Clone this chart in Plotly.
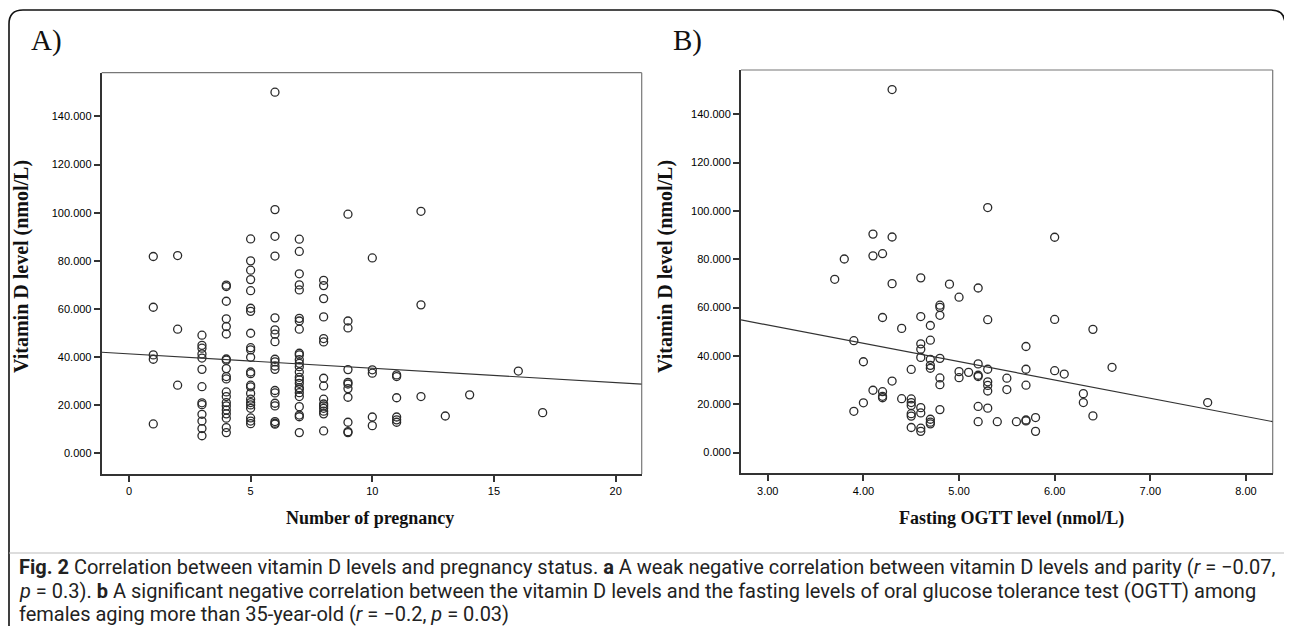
import plotly.graph_objects as go

# the page has an 8px body margin, so the figure is drawn 8px in from the corner
OFF = 8
W, H = 1292 - OFF, 626 - OFF

# ---------------- data ----------------
# Panel A: number of pregnancies -> vitamin D (nmol/L)
parity_groups = {
    1: [81.8, 60.7, 40.9, 39.1, 12.2],
    2: [82.2, 51.6, 28.3],
    3: [49.1, 44.9, 43.7, 41.3, 39.6, 34.9, 27.7, 21.0, 20.2, 16.2, 13.4, 10.3, 7.3],
    4: [69.9, 69.3, 63.2, 55.9, 52.7, 49.6, 39.2, 38.7, 35.2, 31.9, 30.9, 25.5, 23.6,
        21.1, 19.7, 18.0, 16.4, 14.6, 10.7, 8.6],
    5: [89.1, 80.0, 76.1, 72.2, 67.6, 60.3, 59.0, 49.9, 43.9, 43.0, 39.9, 33.8, 33.1,
        28.3, 27.6, 24.9, 22.5, 21.1, 20.1, 18.7, 14.7, 13.4, 12.3],
    6: [150.1, 101.3, 90.2, 82.0, 56.3, 51.3, 49.5, 46.4, 39.1, 38.0, 36.3, 34.9, 26.1,
        25.1, 20.8, 19.7, 13.2, 12.5, 12.1],
    7: [89.0, 83.9, 74.6, 70.0, 67.9, 56.1, 55.0, 51.6, 41.6, 40.9, 38.9, 37.4, 36.0,
        33.8, 31.6, 30.5, 29.1, 27.3, 26.6, 25.2, 23.6, 19.4, 15.9, 15.2, 8.6],
    8: [71.9, 69.7, 64.3, 56.7, 47.7, 46.3, 31.2, 28.0, 22.5, 20.5, 19.7, 18.7, 17.5,
        16.4, 9.3],
    9: [99.4, 55.0, 52.1, 34.8, 29.5, 28.8, 26.9, 23.3, 12.9, 9.0, 8.6],
    10: [81.2, 34.7, 33.3, 15.1, 11.5],
    11: [32.6, 31.9, 23.1, 15.1, 13.9, 12.9],
    12: [100.6, 61.7, 23.6],
    13: [15.5],
    14: [24.3],
    16: [34.2],
    17: [16.9],
}
fitA_intercept, fitA_slope = 41.33, -0.597

# Panel B: fasting OGTT -> vitamin D (nmol/L)
ogtt = [4.30, 4.10, 4.30, 6.00, 5.30, 4.10, 4.20, 3.80, 3.70, 4.30, 4.60, 4.90, 5.00, 5.20,
        4.80, 4.80, 4.80, 4.20, 4.60, 4.70, 4.40, 5.30, 6.00, 6.40,
        3.90, 4.70, 4.60, 4.60, 4.60, 4.80, 4.70, 4.70, 4.70, 4.00, 4.50, 4.30, 4.80, 4.80,
        5.00, 5.00, 5.10, 5.20, 5.20, 5.20,
        5.30, 5.30, 5.30, 5.30, 5.50, 5.50, 5.70, 5.70, 5.70, 6.00, 6.10, 6.60, 6.30, 6.30,
        6.40, 7.60,
        4.10, 4.20, 4.20, 4.20, 4.00, 3.90, 4.40, 4.50, 4.50, 4.50, 4.50, 4.50, 4.50, 4.60,
        4.60, 4.60, 4.60, 4.70, 4.70, 4.70, 4.80, 5.20, 5.30, 5.20, 5.40, 5.60, 5.70, 5.70,
        5.80, 5.80]
vitd_b = [150.2, 90.4, 89.2, 89.1, 101.4, 81.4, 82.3, 80.1, 71.7, 69.9, 72.3, 69.7, 64.3, 68.1,
          61.0, 60.1, 56.8, 55.9, 56.3, 52.6, 51.4, 55.0, 55.1, 51.0,
          46.3, 46.5, 45.0, 42.8, 39.4, 39.0, 38.6, 36.1, 34.9, 37.6, 34.4, 29.6, 30.9, 28.1,
          33.5, 31.0, 33.2, 36.7, 32.0, 31.5,
          34.5, 29.3, 27.8, 25.5, 30.8, 26.1, 43.9, 34.5, 27.9, 33.9, 32.5, 35.3, 24.4, 20.7,
          15.2, 20.7,
          25.8, 25.2, 23.3, 22.7, 20.6, 17.1, 22.3, 22.2, 20.7, 19.5, 16.1, 15.1, 10.4, 18.6,
          16.4, 10.1, 8.8, 13.8, 12.6, 11.9, 17.8, 19.1, 18.4, 12.8, 12.8, 12.8, 13.1, 13.5,
          14.5, 8.8]
fitB_intercept, fitB_slope = 75.5, -7.57

y_ticks = [0, 20, 40, 60, 80, 100, 120, 140]
xA_ticks = [0, 5, 10, 15, 20]
xB_ticks = [3, 4, 5, 6, 7, 8]

xA_range = [-1.12, 21.07]
xB_range = [2.72, 8.28]
yA_range = [-8.6, 158.2]
yB_range = [-8.6, 158.3]

# ---------------- figure ----------------
def px(x):
    return (x - OFF) / W

def py(y):
    return 1 - (y - OFF) / H

parity_x = [k for k, vals in parity_groups.items() for _ in vals]
parity_y = [v for vals in parity_groups.values() for v in vals]

marker = dict(symbol="circle-open", size=8, color="#2a2a2a", line=dict(width=1.3, color="#2a2a2a"))

fig = go.Figure()
fig.add_trace(go.Scatter(x=parity_x, y=parity_y, mode="markers", marker=marker,
                         xaxis="x", yaxis="y", showlegend=False, cliponaxis=False))
fig.add_trace(go.Scatter(x=xA_range, y=[fitA_intercept + fitA_slope * v for v in xA_range],
                         mode="lines", line=dict(color="#333", width=1.2),
                         xaxis="x", yaxis="y", showlegend=False))
fig.add_trace(go.Scatter(x=ogtt, y=vitd_b, mode="markers", marker=marker,
                         xaxis="x2", yaxis="y2", showlegend=False, cliponaxis=False))
fig.add_trace(go.Scatter(x=xB_range, y=[fitB_intercept + fitB_slope * v for v in xB_range],
                         mode="lines", line=dict(color="#333", width=1.2),
                         xaxis="x2", yaxis="y2", showlegend=False))

tickfont = dict(family="Liberation Sans, Arial, sans-serif", size=11, color="#000")
axis_common = dict(showgrid=False, zeroline=False, showline=True, linecolor="#333",
                   linewidth=2, ticks="outside", ticklen=6, tickwidth=1.5, tickcolor="#333",
                   tickfont=tickfont, fixedrange=True)

fig.update_layout(
    width=W, height=H, margin=dict(l=0, r=0, t=0, b=0),
    paper_bgcolor="white", plot_bgcolor="white",
    xaxis=dict(domain=[px(101.7), px(641.7)], range=xA_range, tickvals=xA_ticks,
               anchor="y", **axis_common),
    yaxis=dict(domain=[py(474), py(72.7)], range=yA_range, tickvals=y_ticks,
               tickformat=".3f", anchor="x", **axis_common),
    xaxis2=dict(domain=[px(741), px(1272.7)], range=xB_range, tickvals=xB_ticks,
                tickformat=".2f", anchor="y2", **axis_common),
    yaxis2=dict(domain=[py(473.4), py(70)], range=yB_range, tickvals=y_ticks,
                tickformat=".3f", anchor="x2", **axis_common),
)

shapes = []
# grey top/right frame lines of each plot
for xr, yr in (("x domain", "y domain"), ("x2 domain", "y2 domain")):
    shapes.append(dict(type="line", xref=xr, yref=yr, x0=0, x1=1, y0=1, y1=1,
                       line=dict(color="#777", width=1.2), layer="below"))
    shapes.append(dict(type="line", xref=xr, yref=yr, x0=1, x1=1, y0=0, y1=1,
                       line=dict(color="#777", width=1.2), layer="below"))

# outer rounded frame
r = 14
x0, x1, y0 = 9, 1285, 10
ybot = 640
path = (f"M {px(x0)} {py(ybot)} L {px(x0)} {py(y0 + r)} "
        f"Q {px(x0)} {py(y0)} {px(x0 + r)} {py(y0)} "
        f"L {px(x1 - r)} {py(y0)} Q {px(x1)} {py(y0)} {px(x1)} {py(y0 + r)} "
        f"L {px(x1)} {py(ybot)}")
shapes.append(dict(type="path", xref="paper", yref="paper", path=path,
                   line=dict(color="#111", width=1.6)))
# separator above caption
shapes.append(dict(type="line", xref="paper", yref="paper", x0=px(x0), x1=px(x1),
                   y0=py(553), y1=py(553), line=dict(color="#bbb", width=1)))
fig.update_layout(shapes=shapes)

serif = "Liberation Serif, Times New Roman, serif"
ann = []
ann.append(dict(text="A)", x=px(29), y=py(40), xref="paper", yref="paper", xanchor="left",
                yanchor="middle", showarrow=False, font=dict(family=serif, size=29, color="#111")))
ann.append(dict(text="B)", x=px(671), y=py(40), xref="paper", yref="paper", xanchor="left",
                yanchor="middle", showarrow=False, font=dict(family=serif, size=29, color="#111")))
for xc in (21, 665):
    ann.append(dict(text="<b>Vitamin D level (nmol/L)</b>", x=px(xc), y=py(267), xref="paper",
                    yref="paper", textangle=-90, xanchor="center", yanchor="middle",
                    showarrow=False, font=dict(family=serif, size=20, color="#111")))
ann.append(dict(text="<b>Number of pregnancy</b>", x=px(370), y=py(518), xref="paper",
                yref="paper", xanchor="center", yanchor="middle", showarrow=False,
                font=dict(family=serif, size=18, color="#111")))
ann.append(dict(text="<b>Fasting OGTT level (nmol/L)</b>", x=px(1011), y=py(518), xref="paper",
                yref="paper", xanchor="center", yanchor="middle", showarrow=False,
                font=dict(family=serif, size=18, color="#111")))

cap_font = dict(family="Roboto, DejaVu Sans, sans-serif", size=20, color="#222")
cap_lines = [
    "<b>Fig. 2</b> Correlation between vitamin D levels and pregnancy status. <b>a</b> A weak "
    "negative correlation between vitamin D levels and parity (<i>r</i> = −0.07,",
    "<i>p</i> = 0.3). <b>b</b> A significant negative correlation between the vitamin D levels "
    "and the fasting levels of oral glucose tolerance test (OGTT) among",
    "females aging more than 35-year-old (<i>r</i> = −0.2, <i>p</i> = 0.03)",
]
for i, line in enumerate(cap_lines):
    ann.append(dict(text=line, x=px(17), y=py(567 + 23.6 * i), xref="paper", yref="paper",
                    xanchor="left", yanchor="middle", showarrow=False, font=cap_font))
fig.update_layout(annotations=ann)

fig.write_html("out.html")
